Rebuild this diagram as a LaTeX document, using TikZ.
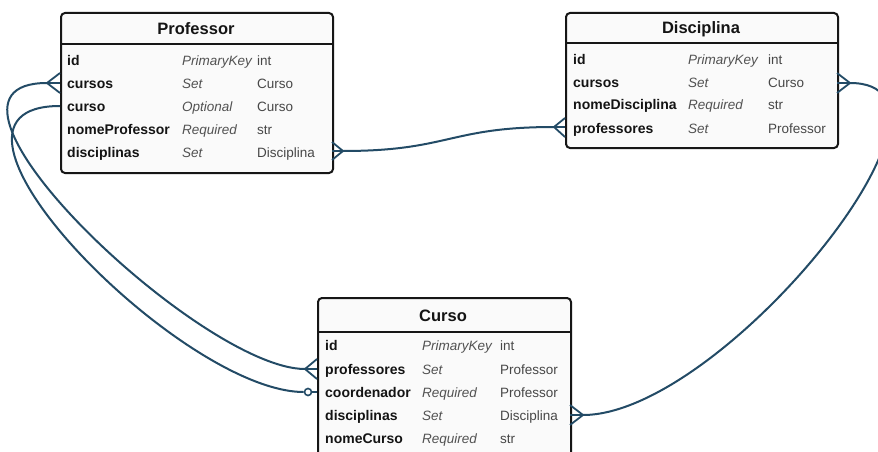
\documentclass[tikz,border=0pt]{standalone}
\usepackage{fontspec}
\setmainfont{Liberation Sans}
\definecolor{linkc}{HTML}{234B66}
\definecolor{boxc}{HTML}{161616}
\begin{document}
\begin{tikzpicture}[x=1pt,y=-1pt,
  rel/.style={draw=linkc, line width=2pt},
  prong/.style={draw=linkc, line width=1.8pt},
  entity/.style={draw=boxc, line width=2pt, rounded corners=4pt, fill=white!98!black, inner sep=0, anchor=north west},
  hdrline/.style={draw=boxc, line width=2pt},
  fname/.style={anchor=base west, font=\fontsize{14}{16}\selectfont\bfseries, text=black!92, inner sep=0},
  fmode/.style={anchor=base west, font=\fontsize{13.5}{16}\selectfont\itshape, text=black!68, inner sep=0},
  ftype/.style={anchor=base west, font=\fontsize{13.5}{16}\selectfont, text=black!72, inner sep=0},
  etitle/.style={font=\fontsize{16.5}{19}\selectfont\bfseries, inner sep=0, text=black!92},
  ring/.style={circle, draw=linkc, line width=1.6pt, fill=white, inner sep=0, minimum size=7pt}]
\path[use as bounding box, fill=white] (0,0) rectangle (878,452);
\clip (0,0) rectangle (878,452);

% ---------- Professor ----------
\node[entity, minimum width=272pt, minimum height=160pt] (prof) at (60,12) {};
\draw[hdrline] (60,44) -- (332,44);
\node[etitle] (proft) at (196,29) {Professor};
\node[fname] (p1n) at (67,66) {id};
\node[fmode] (p1m) at (182,66) {PrimaryKey};
\node[ftype] (p1t) at (257,66) {int};
\node[fname] (p2n) at (67,88.5) {cursos};
\node[fmode] (p2m) at (182,88.5) {Set};
\node[ftype] (p2t) at (257,88.5) {Curso};
\node[fname] (p3n) at (67,111) {curso};
\node[fmode] (p3m) at (182,111) {Optional};
\node[ftype] (p3t) at (257,111) {Curso};
\node[fname] (p4n) at (67,134) {nomeProfessor};
\node[fmode] (p4m) at (182,134) {Required};
\node[ftype] (p4t) at (257,134) {str};
\node[fname] (p5n) at (67,157) {disciplinas};
\node[fmode] (p5m) at (182,157) {Set};
\node[ftype] (p5t) at (257,157) {Disciplina};

% ---------- Disciplina ----------
\node[entity, minimum width=272pt, minimum height=135pt] (disc) at (565,12) {};
\draw[hdrline] (565,43) -- (837,43);
\node[etitle] (disct) at (701,29) {Disciplina};
\node[fname] (d1n) at (573,64) {id};
\node[fmode] (d1m) at (688,64) {PrimaryKey};
\node[ftype] (d1t) at (768,64) {int};
\node[fname] (d2n) at (573,87) {cursos};
\node[fmode] (d2m) at (688,87) {Set};
\node[ftype] (d2t) at (768,87) {Curso};
\node[fname] (d3n) at (573,110) {nomeDisciplina};
\node[fmode] (d3m) at (688,110) {Required};
\node[ftype] (d3t) at (768,110) {str};
\node[fname] (d4n) at (573,133) {professores};
\node[fmode] (d4m) at (688,133) {Set};
\node[ftype] (d4t) at (768,133) {Professor};

% ---------- Curso (runs past the lower edge) ----------
\node[entity, minimum width=253pt, minimum height=185pt] (curso) at (317,297) {};
\draw[hdrline] (317,332) -- (570,332);
\node[etitle] (cursot) at (443,316) {Curso};
\node[fname] (c1n) at (325,350) {id};
\node[fmode] (c1m) at (422,350) {PrimaryKey};
\node[ftype] (c1t) at (500,350) {int};
\node[fname] (c2n) at (325,374) {professores};
\node[fmode] (c2m) at (422,374) {Set};
\node[ftype] (c2t) at (500,374) {Professor};
\node[fname] (c3n) at (325,397) {coordenador};
\node[fmode] (c3m) at (422,397) {Required};
\node[ftype] (c3t) at (500,397) {Professor};
\node[fname] (c4n) at (325,420) {disciplinas};
\node[fmode] (c4m) at (422,420) {Set};
\node[ftype] (c4t) at (500,420) {Disciplina};
\node[fname] (c5n) at (325,443) {nomeCurso};
\node[fmode] (c5m) at (422,443) {Required};
\node[ftype] (c5t) at (500,443) {str};

% ---------- ports ----------
% Professor.cursos  (crow's foot on the left)
\coordinate (pcE) at (60,83);  \coordinate (pcA) at (60,73);  \coordinate (pcB) at (60,93);  \coordinate (pcJ) at (47,83);
% Professor.curso
\coordinate (pkE) at (60,106);
% Professor.disciplinas (crow's foot on the right)
\coordinate (pdE) at (332,151); \coordinate (pdA) at (332,142); \coordinate (pdB) at (332,160); \coordinate (pdJ) at (343,151);
% Disciplina.professores
\coordinate (dpE) at (565,127); \coordinate (dpA) at (565,118); \coordinate (dpB) at (565,137); \coordinate (dpJ) at (554,127);
% Disciplina.cursos
\coordinate (dcE) at (837,83);  \coordinate (dcA) at (837,73);  \coordinate (dcB) at (837,93);  \coordinate (dcJ) at (850,83);
% Curso.professores
\coordinate (cpE) at (317,369); \coordinate (cpA) at (317,359); \coordinate (cpB) at (317,379); \coordinate (cpJ) at (305,369);
% Curso.coordenador
\coordinate (ccE) at (317,392);
\node[ring] (ccR) at (308,392) {};
% Curso.disciplinas
\coordinate (cdE) at (570,415); \coordinate (cdA) at (570,405); \coordinate (cdB) at (570,425); \coordinate (cdJ) at (583,415);

% ---------- relations ----------
% Professor.cursos <-> Curso.professores
\draw[rel] (pcJ) .. controls (-100,83) and (200,369) .. (cpJ);
% Professor.curso <-> Curso.coordenador
\draw[rel] (pkE) .. controls (-100,106) and (180,392) .. (ccR.west);
\draw[rel] (ccR.east) -- (ccE);
% Professor.disciplinas <-> Disciplina.professores
\draw[rel] (pdJ) .. controls (449,151) and (449,127) .. (dpJ);
% Disciplina.cursos <-> Curso.disciplinas
\draw[rel] (dcJ) .. controls (990,83) and (723,415) .. (cdJ);

% crow's feet
\foreach \j/\a/\e/\b in {pcJ/pcA/pcE/pcB, pdJ/pdA/pdE/pdB, dpJ/dpA/dpE/dpB,
                         dcJ/dcA/dcE/dcB, cpJ/cpA/cpE/cpB, cdJ/cdA/cdE/cdB}{
  \draw[prong] (\a) -- (\j) -- (\b);
  \draw[prong] (\j) -- (\e);
}
\end{tikzpicture}
\end{document}
